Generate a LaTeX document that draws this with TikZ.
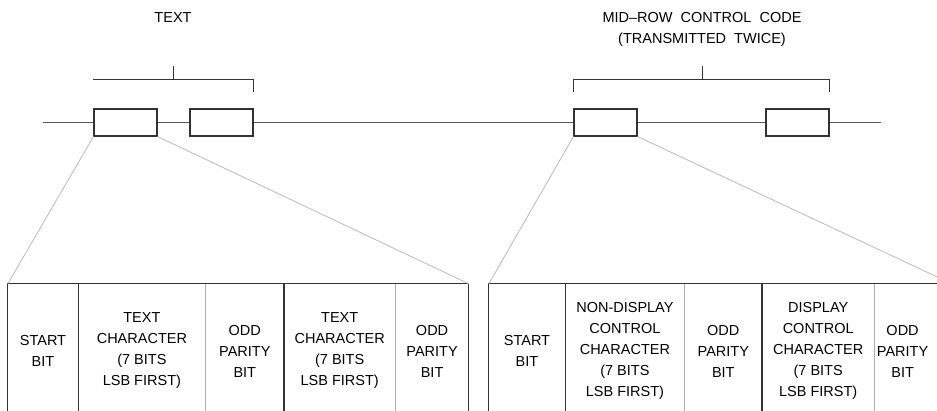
\documentclass[tikz,border=0pt]{standalone}
\usepackage{fontspec}
\setmainfont{Liberation Sans}
\usetikzlibrary{positioning}

\definecolor{ink}{gray}{0.2}
\definecolor{wirecol}{gray}{0.35}
\definecolor{fancol}{gray}{0.72}
\definecolor{sepcol}{gray}{0.68}

\tikzset{
  charbox/.style={draw=ink, line width=1.1pt, minimum width=63pt, minimum height=27pt, inner sep=0pt},
  wire/.style={wirecol, line width=1.3pt},
  bracket/.style={ink, line width=1pt},
  fanline/.style={fancol, line width=0.8pt},
  rule/.style={ink, line width=1.1pt},
  sep/.style={sepcol, line width=0.9pt},
  cell/.style={align=center, inner xsep=0pt, inner ysep=0pt, minimum height=134pt}
}

\begin{document}
\begin{tikzpicture}[x=1pt,y=-1pt, every node/.style={font=\fontsize{14.5}{21}\selectfont}]
    \useasboundingbox (0,0) rectangle (937,411);
    \clip (0,0) rectangle (937,411);

    % characters on the line
    \node[charbox] (c1) at (125.5,122.5) {};
    \node[charbox] (c2) at (221.5,122.5) {};
    \node[charbox] (c3) at (605.5,122.5) {};
    \node[charbox] (c4) at (797.5,122.5) {};
    \coordinate (lineL) at (43,122.5);
    \coordinate (lineR) at (881,122.5);
    \foreach \a/\b in {lineL/c1.west, c1.east/c2.west, c2.east/c3.west, c3.east/c4.west, c4.east/lineR}
        \draw[wire] (\a) -- (\b);

    % labels and brackets
    \node[anchor=north, inner sep=0pt] (txt) at (173,12) {TEXT};
    \node[anchor=north, inner sep=0pt, align=center] (ctrl) at (702,12)
        {MID–ROW\ \ CONTROL\ \ CODE\\(TRANSMITTED\ \ TWICE)};
    \draw[bracket] (c1.north west |- 0,80) -- (c2.north east |- 0,80) -- (c2.north east |- 0,92);
    \draw[bracket] (173,66) -- (173,80);
    \draw[bracket] (c3.north west |- 0,92) -- (c3.north west |- 0,80)
        -- (c4.north east |- 0,80) -- (c4.north east |- 0,92);
    \draw[bracket] (702,66) -- (702,80);

    % text table
    \node[cell, minimum width=70pt] (a1) at (43,351) {START\\BIT};
    \node[cell, minimum width=127pt, right=0pt of a1] (a2) {TEXT\\CHARACTER\\(7 BITS\\LSB FIRST)};
    \node[cell, minimum width=78pt, right=0pt of a2] (a3) {ODD\\PARITY\\BIT};
    \node[cell, minimum width=111pt, right=0pt of a3] (a4) {TEXT\\CHARACTER\\(7 BITS\\LSB FIRST)};
    \node[cell, minimum width=73pt, right=0pt of a4] (a5) {ODD\\PARITY\\BIT};
    \coordinate (aR) at (a5.north east);

    % control code table (runs past the right edge)
    \node[cell, minimum width=76pt] (b1) at (527,351) {START\\BIT};
    \node[cell, minimum width=119pt, right=0pt of b1] (b2) {NON-DISPLAY\\CONTROL\\CHARACTER\\(7 BITS\\LSB FIRST)};
    \node[cell, minimum width=77pt, right=0pt of b2] (b3) {ODD\\PARITY\\BIT};
    \node[cell, minimum width=112pt, right=0pt of b3] (b4) {DISPLAY\\CONTROL\\CHARACTER\\(7 BITS\\LSB FIRST)};
    \node[cell, minimum width=56pt, right=0pt of b4] (b5) {ODD\\PARITY\\BIT};
    \coordinate (bR) at ([xshift=21pt]b5.north east);

    \foreach \t in {a,b} {
        \draw[rule] (\t1.south west) -- (\t1.north west) -- (\t R);
        \foreach \c in {1,3}
            \draw[rule] (\t\c.north east) -- (\t\c.south east);
        \foreach \c in {2,4}
            \draw[sep] (\t\c.north east) -- (\t\c.south east);
    }
    \draw[rule] (aR) -- (a5.south east);

    % fan out to the tables
    \draw[fanline] (c1.south west) -- (a1.north west);
    \draw[fanline] (c1.south east) -- (aR);
    \draw[fanline] (c3.south west) -- (b1.north west);
    \draw[fanline] (c3.south east) -- (bR);
\end{tikzpicture}
\end{document}
